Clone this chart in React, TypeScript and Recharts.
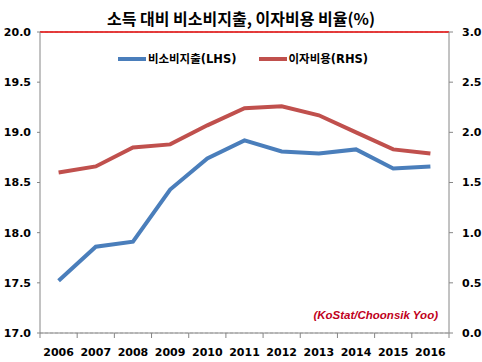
import React from "react";
import { LineChart, Line, XAxis, YAxis, CartesianGrid, ReferenceLine } from "recharts";

const years = ["2006", "2007", "2008", "2009", "2010", "2011", "2012", "2013", "2014", "2015", "2016"];
const nonConsumption = [17.52, 17.86, 17.91, 18.43, 18.74, 18.92, 18.81, 18.79, 18.83, 18.64, 18.66];
const interestCost = [1.6, 1.66, 1.85, 1.88, 2.07, 2.24, 2.26, 2.17, 2.0, 1.83, 1.79];
const leftTicks = [17, 17.5, 18, 18.5, 19, 19.5, 20];
const rightTicks = [0, 0.5, 1, 1.5, 2, 2.5, 3];

const BLUE = "#4a7ebb";
const RED = "#c0504d";
const AXIS = "#868686";
const FONT = "'DejaVu Sans', 'Noto Sans CJK KR', sans-serif";

const data = years.map((year, i) => ({ year, lhs: nonConsumption[i], rhs: interestCost[i] }));

const W = 482;
const H = 362;
const HALF = 18.6;

function YearTick(props: any) {
  const { x, y, payload, index } = props;
  const top = y - 13;
  return (
    <g>
      <line x1={x - HALF} x2={x - HALF} y1={top} y2={top + 5} stroke={AXIS} />
      {index === years.length - 1 && <line x1={x + HALF} x2={x + HALF} y1={top} y2={top + 5} stroke={AXIS} />}
      <text x={x} y={y + 10} textAnchor="middle" fontSize={11} fontWeight="bold" fontFamily={FONT} fill="#000">
        {payload.value}
      </text>
    </g>
  );
}

function LegendBox() {
  const item = (color: string, label: string) => (
    <span style={{ display: "inline-flex", alignItems: "center", margin: "0 11px" }}>
      <span style={{ display: "inline-block", width: 28, height: 4, background: color, marginRight: 2 }} />
      <span>{label}</span>
    </span>
  );
  return (
    <div
      style={{
        position: "absolute",
        top: 49,
        left: 2,
        width: W,
        textAlign: "center",
        fontSize: 11.5,
        fontWeight: "bold",
        fontFamily: FONT,
        color: "#000",
        lineHeight: "16px",
      }}
    >
      {item(BLUE, "비소비지출(LHS)")}
      {item(RED, "이자비용(RHS)")}
    </div>
  );
}

export default function App() {
  return (
    <div style={{ position: "absolute", left: 0, top: 0, width: W, height: H, background: "#fff" }}>
      <div
        style={{
          position: "absolute",
          top: 7,
          width: W,
          textAlign: "center",
          fontSize: 16,
          fontWeight: "bold",
          fontFamily: "'Noto Sans CJK KR', sans-serif",
          color: "#000",
          lineHeight: "22px",
        }}
      >
        소득 대비 비소비지출, 이자비용 비율(%)
      </div>
      <LineChart width={W} height={H} data={data} margin={{ top: 32, right: 0, bottom: 0, left: 0 }}>
        <CartesianGrid vertical={false} stroke="#c4c4c4" strokeDasharray="3 2" />
        <XAxis
          dataKey="year"
          interval={0}
          padding={{ left: HALF, right: HALF }}
          height={29}
          tickLine={false}
          tickSize={5}
          tickMargin={8}
          axisLine={{ stroke: AXIS }}
          tick={<YearTick />}
        />
        <YAxis
          yAxisId="left"
          domain={[17, 20]}
          ticks={leftTicks}
          width={40}
          tickSize={3}
          tickMargin={6}
          tickFormatter={(v: number) => v.toFixed(1)}
          axisLine={{ stroke: AXIS }}
          tickLine={{ stroke: AXIS }}
          tick={{ fontSize: 11, fontWeight: "bold", fontFamily: FONT, fill: "#000" }}
        />
        <YAxis
          yAxisId="right"
          orientation="right"
          domain={[0, 3]}
          ticks={rightTicks}
          width={33}
          tickSize={4}
          tickMargin={9}
          tickFormatter={(v: number) => v.toFixed(1)}
          axisLine={{ stroke: AXIS }}
          tickLine={{ stroke: AXIS }}
          tick={{ fontSize: 11, fontWeight: "bold", fontFamily: FONT, fill: "#000", textAnchor: "start" }}
        />
        <ReferenceLine yAxisId="left" y={20} stroke="#e00000" strokeWidth={1.5} />
        <Line yAxisId="left" dataKey="lhs" stroke={BLUE} strokeWidth={4} dot={false} isAnimationActive={false} />
        <Line yAxisId="right" dataKey="rhs" stroke={RED} strokeWidth={4} dot={false} isAnimationActive={false} />
      </LineChart>
      <LegendBox />
      <div
        style={{
          position: "absolute",
          right: 44,
          top: 309,
          fontSize: 11.5,
          fontWeight: "bold",
          fontStyle: "italic",
          fontFamily: "'Liberation Sans', sans-serif",
          color: "#c00020",
        }}
      >
        (KoStat/Choonsik Yoo)
      </div>
    </div>
  );
}
